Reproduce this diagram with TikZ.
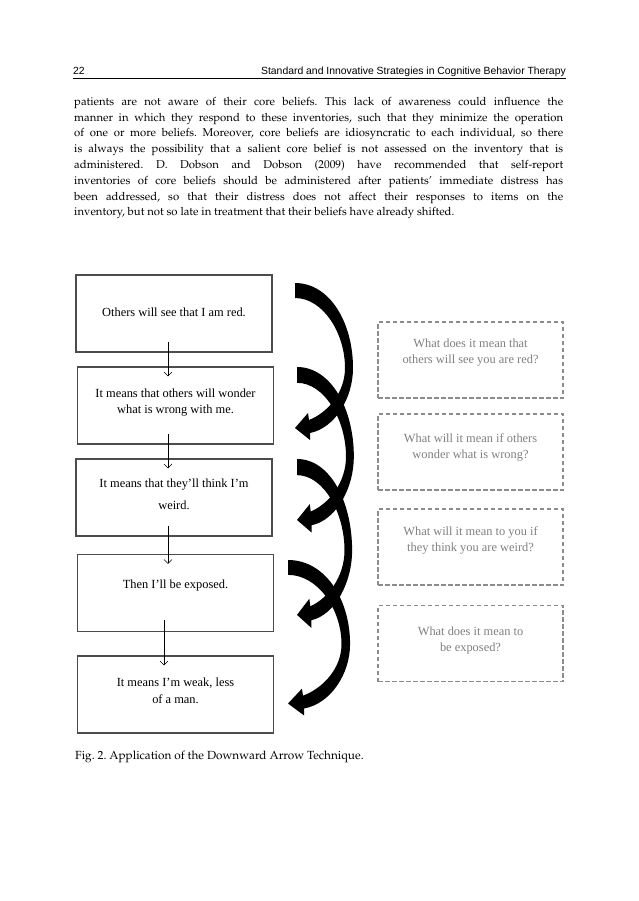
\documentclass[tikz,border=0pt]{standalone}
\usepackage[T1]{fontenc}
\usepackage{fontspec}
\usetikzlibrary{arrows.meta}
\newfontfamily\arialfont{Liberation Sans}
\newfontfamily\timesfont{Liberation Serif}
\newcommand\palfont{\fontencoding{T1}\fontfamily{ppl}\selectfont}
\frenchspacing
\begin{document}
\begin{tikzpicture}[x=1pt,y=-1pt,
	belief_node/.style={draw=black!70,line width=1.1pt,minimum width=196pt,minimum height=77pt,inner sep=0pt},
	question_node/.style={draw=black!45,dash pattern=on 4.5pt off 2.5pt,line width=1.1pt,minimum width=185pt,minimum height=76pt,inner sep=0pt},
	belief_text/.style={font=\timesfont\fontsize{12.4}{16.5}\selectfont,align=center,inner sep=0pt},
	question_text/.style={belief_text,text=black!50},
	body_line/.style={font=\palfont\fontsize{11.35}{15.8}\selectfont,anchor=base west,inner sep=0pt},
	head_text/.style={font=\arialfont\fontsize{10.4}{12}\selectfont,inner sep=0pt},
	step_arrow/.style={-{Straight Barb[length=4pt,width=8pt]},line width=0.6pt},
	curve_arrow/.pic={\fill[black] (0,0) .. controls (35,0) and (58,40) .. (58,85) .. controls (58,115) and (40,145) .. (15,150) -- (15,157) -- (0,145) -- (13,130) -- (14,137) .. controls (32,130) and (50,110) .. (50,85) .. controls (50,50) and (28,15) .. (0,15) -- cycle;}]
	
	\fill[white] (0,0) rectangle (638,901);
	\useasboundingbox (0,0) rectangle (638,901);
	
	% page head
	\node[head_text,anchor=base west] (page) at (73,75) {22};
	\node[head_text,anchor=base east] (title) at (566,75) {Standard and Innovative Strategies in Cognitive Behavior Therapy};
	\draw[line width=0.7pt] (73,78.5) -- (566,78.5);
	
	% paragraph
	\node[body_line] (line1) at (74,105.3) {\makebox[489pt][s]{patients are not aware of their core beliefs. This lack of awareness could influence the}};
	\node[body_line] (line2) at (74,121.1) {\makebox[489pt][s]{manner in which they respond to these inventories, such that they minimize the operation}};
	\node[body_line] (line3) at (74,136.9) {\makebox[489pt][s]{of one or more beliefs. Moreover, core beliefs are idiosyncratic to each individual, so there}};
	\node[body_line] (line4) at (74,152.7) {\makebox[489pt][s]{is always the possibility that a salient core belief is not assessed on the inventory that is}};
	\node[body_line] (line5) at (74,168.5) {\makebox[489pt][s]{administered. D. Dobson and Dobson (2009) have recommended that self-report}};
	\node[body_line] (line6) at (74,184.3) {\makebox[489pt][s]{inventories of core beliefs should be administered after patients' immediate distress has}};
	\node[body_line] (line7) at (74,200.1) {\makebox[489pt][s]{been addressed, so that their distress does not affect their responses to items on the}};
	\node[body_line] (line8) at (74,215.9) {inventory, but not so late in treatment that their beliefs have already shifted.};
	
	% beliefs
	\node[belief_node] (b1) at (174,313.5) {};
	\node[belief_node] (b2) at (175.5,405.5) {};
	\node[belief_node] (b3) at (174,497.5) {};
	\node[belief_node] (b4) at (175.5,593) {};
	\node[belief_node] (b5) at (175.5,694.5) {};
	
	\node[belief_text] (t1) at ([yshift=1.5pt]b1.center) {Others will see that I am red.};
	\node[belief_text] (t2) at ([yshift=3pt]b2.center) {It means that others will wonder\\what is wrong with me.};
	\node[belief_text] (t3) at ([yshift=3pt]b3.center) {It means that they’ll think I’m\\[6pt]weird.};
	\node[belief_text] (t4) at ([yshift=7pt]b4.center) {Then I’ll be exposed.};
	\node[belief_text] (t5) at ([yshift=3.5pt]b5.center) {It means I’m weak, less\\of a man.};
	
	\draw[step_arrow] ([xshift=-6pt,yshift=11pt]b1.south) -- ([xshift=-7.5pt,yshift=-10pt]b2.north);
	\draw[step_arrow] ([xshift=-7.5pt,yshift=11pt]b2.south) -- ([xshift=-6pt,yshift=-10pt]b3.north);
	\draw[step_arrow] ([xshift=-6pt,yshift=11pt]b3.south) -- ([xshift=-7.5pt,yshift=-10pt]b4.north);
	\draw[step_arrow] ([xshift=-11.5pt,yshift=12pt]b4.south) -- ([xshift=-11.5pt,yshift=-10pt]b5.north);
	
	% questions
	\node[question_node] (q1) at (470.5,360) {};
	\node[question_node] (q2) at (470.5,452) {};
	\node[question_node] (q3) at (470.5,547) {};
	\node[question_node] (q4) at (470.5,643.5) {};
	
	\node[question_text] (p1) at ([yshift=7.5pt]q1.center) {What does it mean that\\others will see you are red?};
	\node[question_text] (p2) at ([yshift=4.5pt]q2.center) {What will it mean if others\\wonder what is wrong?};
	\node[question_text] (p3) at ([yshift=6.3pt]q3.center) {What will it mean to you if\\they think you are weird?};
	\node[question_text] (p4) at ([yshift=2.8pt]q4.center) {What does it mean to\\be exposed?};
	
	% downward arrows
	\pic at (295,283) {curve_arrow};
	\pic[yscale=1.055,xscale=0.98] at (297,367) {curve_arrow};
	\pic[yscale=1.075,xscale=0.95] at (297,459) {curve_arrow};
	\pic[yscale=0.99,xscale=1.07] at (288,560) {curve_arrow};
	
	\node[body_line,font=\palfont\fontsize{11.8}{14}\selectfont] (caption) at (75,759) {Fig. 2. Application of the Downward Arrow Technique.};
\end{tikzpicture}
\end{document}
